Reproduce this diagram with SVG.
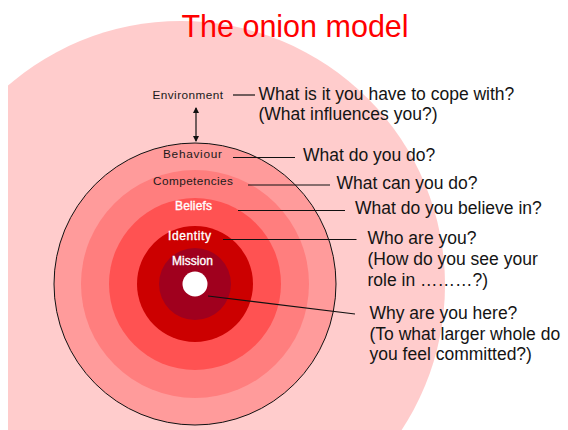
<svg xmlns="http://www.w3.org/2000/svg" width="568" height="430" viewBox="0 0 568 430">
  <style>
    .t { font-family: "Liberation Sans", Arial, sans-serif; font-size: 17.5px; fill: #141414; }
    .s { font-family: "Liberation Sans", Arial, sans-serif; font-size: 11.8px; fill: #1a1a1a; }
    .w { font-family: "Liberation Sans", Arial, sans-serif; font-size: 12px; fill: #ffffff; stroke: #ffffff; stroke-width: 0.35; }
    .ln { stroke: #111; stroke-width: 1.2; fill: none; }
  </style>
  <defs>
    <clipPath id="slide"><rect x="8" y="0" width="560" height="430"/></clipPath>
    <marker id="ah" viewBox="0 0 6 6" refX="5" refY="3" markerWidth="5" markerHeight="5" orient="auto-start-reverse">
      <path d="M0,0 L6,3 L0,6 z" fill="#111"/>
    </marker>
  </defs>
  <rect width="568" height="430" fill="#ffffff"/>
  <g id="environment">
    <circle cx="181" cy="285" r="264" fill="#FFCCCC" clip-path="url(#slide)"/>
    <text class="s" x="152.5" y="98.5" textLength="70.5" lengthAdjust="spacing">Environment</text>
  </g>
  <g id="title">
    <text x="295" y="36.5" text-anchor="middle" font-family="Liberation Sans, Arial, sans-serif" font-size="30.5" fill="#FF0000">The onion model</text>
  </g>
  <g id="behaviour">
    <circle cx="195" cy="284" r="141" fill="#FF9B9B" stroke="#111" stroke-width="1"/>
    <text class="s" x="163" y="157.5" textLength="59" lengthAdjust="spacing">Behaviour</text>
  </g>
  <g id="competencies">
    <circle cx="195" cy="284" r="114" fill="#FF7E7E"/>
    <text class="s" x="153" y="184.5" textLength="80" lengthAdjust="spacing">Competencies</text>
  </g>
  <g id="beliefs">
    <circle cx="195" cy="284" r="86" fill="#FF5252"/>
    <text class="w" x="175" y="209.5" textLength="37" lengthAdjust="spacing">Beliefs</text>
  </g>
  <g id="identity">
    <circle cx="195" cy="284" r="58" fill="#CC0000"/>
    <text class="w" x="168" y="240" textLength="43" lengthAdjust="spacing">Identity</text>
  </g>
  <g id="mission">
    <circle cx="195" cy="284" r="36" fill="#A0001E"/>
    <text class="w" x="172" y="265" textLength="41" lengthAdjust="spacing">Mission</text>
    <circle cx="195" cy="284" r="12.5" fill="#ffffff"/>
  </g>
  <g id="questions">
    <text class="t" x="258.5" y="100">What is it you have to cope with?</text>
    <text class="t" x="258.5" y="119.5">(What influences you?)</text>
    <text class="t" x="303" y="161">What do you do?</text>
    <text class="t" x="336.5" y="189">What can you do?</text>
    <text class="t" x="355" y="213.5">What do you believe in?</text>
    <text class="t" x="367.5" y="243.5">Who are you?</text>
    <text class="t" x="367.5" y="264.5">(How do you see your</text>
    <text class="t" x="367.5" y="285.5">role in ………?)</text>
    <text class="t" x="369.5" y="319">Why are you here?</text>
    <text class="t" x="369.5" y="339.5">(To what larger whole do</text>
    <text class="t" x="369.5" y="360">you feel committed?)</text>
  </g>
  <g id="connectors">
    <line class="ln" x1="233" y1="95" x2="255" y2="95"/>
    <line class="ln" x1="196" y1="108" x2="196" y2="141" marker-start="url(#ah)" marker-end="url(#ah)"/>
    <line class="ln" x1="233" y1="157.5" x2="295" y2="157.5"/>
    <line class="ln" x1="248" y1="185" x2="330" y2="185"/>
    <line class="ln" x1="238" y1="210.5" x2="345" y2="210.5"/>
    <line class="ln" x1="223" y1="239.5" x2="356.5" y2="239.5"/>
    <line class="ln" x1="208" y1="296" x2="355" y2="314"/>
  </g>
</svg>
